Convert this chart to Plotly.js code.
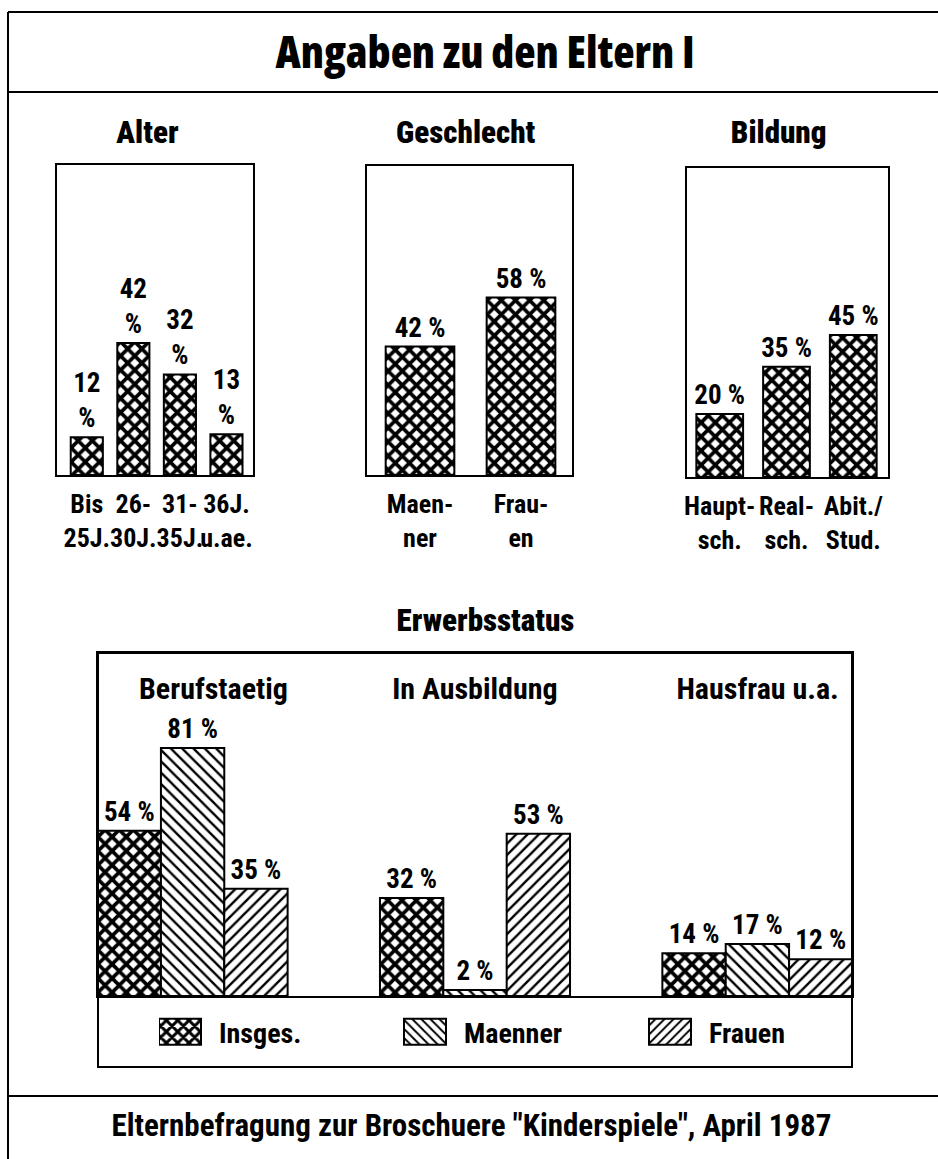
<!DOCTYPE html>
<html><head><meta charset="utf-8">
<script src="https://cdn.plot.ly/plotly-3.0.1.min.js"></script>
<style>html,body{margin:0;padding:0;background:#fff} #chart text{font-stretch:75% !important;}</style>
</head><body><div id="chart" style="width:938px;height:1159px"></div>
<script>
// ---- data ----
const chartTitle = "Angaben zu den Eltern I";
const footerText = 'Elternbefragung zur Broschuere "Kinderspiele", April 1987';
const alterTitle = "Alter";
const alterCats = ["Bis<br>25J.", "26-<br>30J.", "31-<br>35J.", "36J.<br>u.ae."];
const alterVals = [12, 42, 32, 13];
const geschlechtTitle = "Geschlecht";
const geschlechtCats = ["Maen-<br>ner", "Frau-<br>en"];
const geschlechtVals = [42, 58];
const bildungTitle = "Bildung";
const bildungCats = ["Haupt-<br>sch.", "Real-<br>sch.", "Abit./<br>Stud."];
const bildungVals = [20, 35, 45];
const erwerbTitle = "Erwerbsstatus";
const erwerbCats = ["Berufstaetig", "In Ausbildung", "Hausfrau u.a."];
const seriesNames = ["Insges.", "Maenner", "Frauen"];
const insgesVals = [54, 32, 14];
const maennerVals = [81, 2, 17];
const frauenVals = [35, 53, 12];

// ---- helpers ----
const W = 938, H = 1159;
const px = v => v / W;
const py = v => 1 - v / H;
const FAM = 'Roboto, sans-serif';
const FAM2 = '"Open Sans", Roboto, sans-serif';
const f = (size, fam, wt) => ({family: fam || FAM, size: size, color: "black", weight: wt || "bold"});

const crossPat = {shape: "x", fgcolor: "black", bgcolor: "white", size: 10, solidity: 0.6};
const backPat = {shape: "\\", fgcolor: "black", bgcolor: "white", size: 8, solidity: 0.3};
const fwdPat = {shape: "/", fgcolor: "black", bgcolor: "white", size: 8, solidity: 0.3};
const outline = {color: "black", width: 2};

function smallBar(cats, vals, ax, tmpl, w) {
  return {type: "bar", x: cats, y: vals, xaxis: "x" + ax, yaxis: "y" + ax,
    width: w, showlegend: false, hoverinfo: "skip",
    marker: {color: "white", line: outline, pattern: crossPat},
    texttemplate: tmpl, textposition: "outside", constraintext: "none",
    cliponaxis: false, textfont: f(27)};
}

const traces = [
  smallBar(alterCats, alterVals, "", "%{y}<br>%", 0.69),
  smallBar(geschlechtCats, geschlechtVals, "2", "%{y} %", 0.68),
  smallBar(bildungCats, bildungVals, "3", "%{y} %", 0.70),
];
[[insgesVals, crossPat], [maennerVals, backPat], [frauenVals, fwdPat]].forEach((s, i) => {
  traces.push({type: "bar", name: seriesNames[i], x: erwerbCats, y: s[0],
    xaxis: "x4", yaxis: "y4", hoverinfo: "skip",
    marker: {color: "white", line: outline, pattern: s[1]},
    texttemplate: "%{y} %", textposition: "outside", constraintext: "none",
    cliponaxis: false, textfont: f(27)});
});

const boxAxis = {showline: true, mirror: true, linecolor: "black", linewidth: 2,
  showgrid: false, zeroline: false, ticks: "", fixedrange: true};

function xAx(d0, d1, r, anc) {
  return Object.assign({}, boxAxis, {domain: [px(d0), px(d1)], range: r, anchor: anc,
    type: "category", tickfont: f(26), tickangle: 0, ticklabelstandoff: 5});
}
function yAx(top, bot, r, anc) {
  return Object.assign({}, boxAxis, {domain: [py(bot), py(top)], range: r, anchor: anc, showticklabels: false});
}

const layout = {
  width: W, height: H, margin: {l: 0, r: 0, t: 0, b: 0},
  paper_bgcolor: "white", plot_bgcolor: "white",
  barmode: "group", bargap: 0.327, bargroupgap: 0,
  title: {text: chartTitle, x: px(485), xanchor: "center", y: py(53), yanchor: "middle", font: f(44, FAM2, 800)},
  xaxis: xAx(57, 253, [-0.64, 3.57], "y"),
  yaxis: yAx(165, 475, [0, 98.7], "x"),
  xaxis2: xAx(367, 572, [-0.525, 1.505], "y2"),
  yaxis2: yAx(166, 475, [0, 101], "x2"),
  xaxis3: xAx(687, 888, [-0.49, 2.52], "y3"),
  yaxis3: yAx(168, 477, [0, 98], "x3"),
  xaxis4: Object.assign({}, boxAxis, {domain: [px(98), px(852)], range: [-0.335, 2.335],
    type: "category", showticklabels: false, anchor: "y4"}),
  yaxis4: yAx(653, 996, [0, 112], "x4"),
  showlegend: true,
  legend: {orientation: "h", x: px(159), xanchor: "left", y: py(1032), yanchor: "middle",
    font: f(28), entrywidth: 180, entrywidthmode: "pixels", itemwidth: 50,
    bgcolor: "rgba(0,0,0,0)", traceorder: "normal"},
  annotations: [
    {text: alterTitle, x: px(147), y: py(132)},
    {text: geschlechtTitle, x: px(466), y: py(132)},
    {text: bildungTitle, x: px(778), y: py(132)},
    {text: erwerbTitle, x: px(485), y: py(620)},
  ].map(a => Object.assign(a, {xref: "paper", yref: "paper", showarrow: false,
      xanchor: "center", yanchor: "middle", font: f(31, FAM, 900)}))
  .concat(erwerbCats.map((c, i) => ({text: c, x: c, xref: "x4", y: py(688), yref: "paper",
      xshift: i === 0 ? 21 : 0, showarrow: false, xanchor: "center", yanchor: "middle", font: f(30)})))
  .concat([{text: footerText, x: px(471), y: py(1125), xref: "paper", yref: "paper",
      showarrow: false, xanchor: "center", yanchor: "middle", font: f(31)}]),
  shapes: [
    {type: "line", x0: px(8), x1: 1, y0: py(12), y1: py(12)},
    {type: "line", x0: px(8), x1: 1, y0: py(92), y1: py(92)},
    {type: "line", x0: px(8), x1: 1, y0: py(1096), y1: py(1096)},
    {type: "line", x0: px(8), x1: px(8), y0: py(12), y1: 0},
    {type: "rect", x0: px(98), x1: px(852), y0: py(653), y1: py(1067)},
  ].map(s => Object.assign(s, {xref: "paper", yref: "paper", line: {color: "black", width: 2}}))
};

Plotly.newPlot("chart", traces, layout, {displayModeBar: false, staticPlot: true}).then(gd => {
  gd.querySelectorAll(".legend .legendpoints path").forEach(p => {
    p.setAttribute("d", "M12,13H-30V-13H12Z");
  });
});
</script>
</body></html>
